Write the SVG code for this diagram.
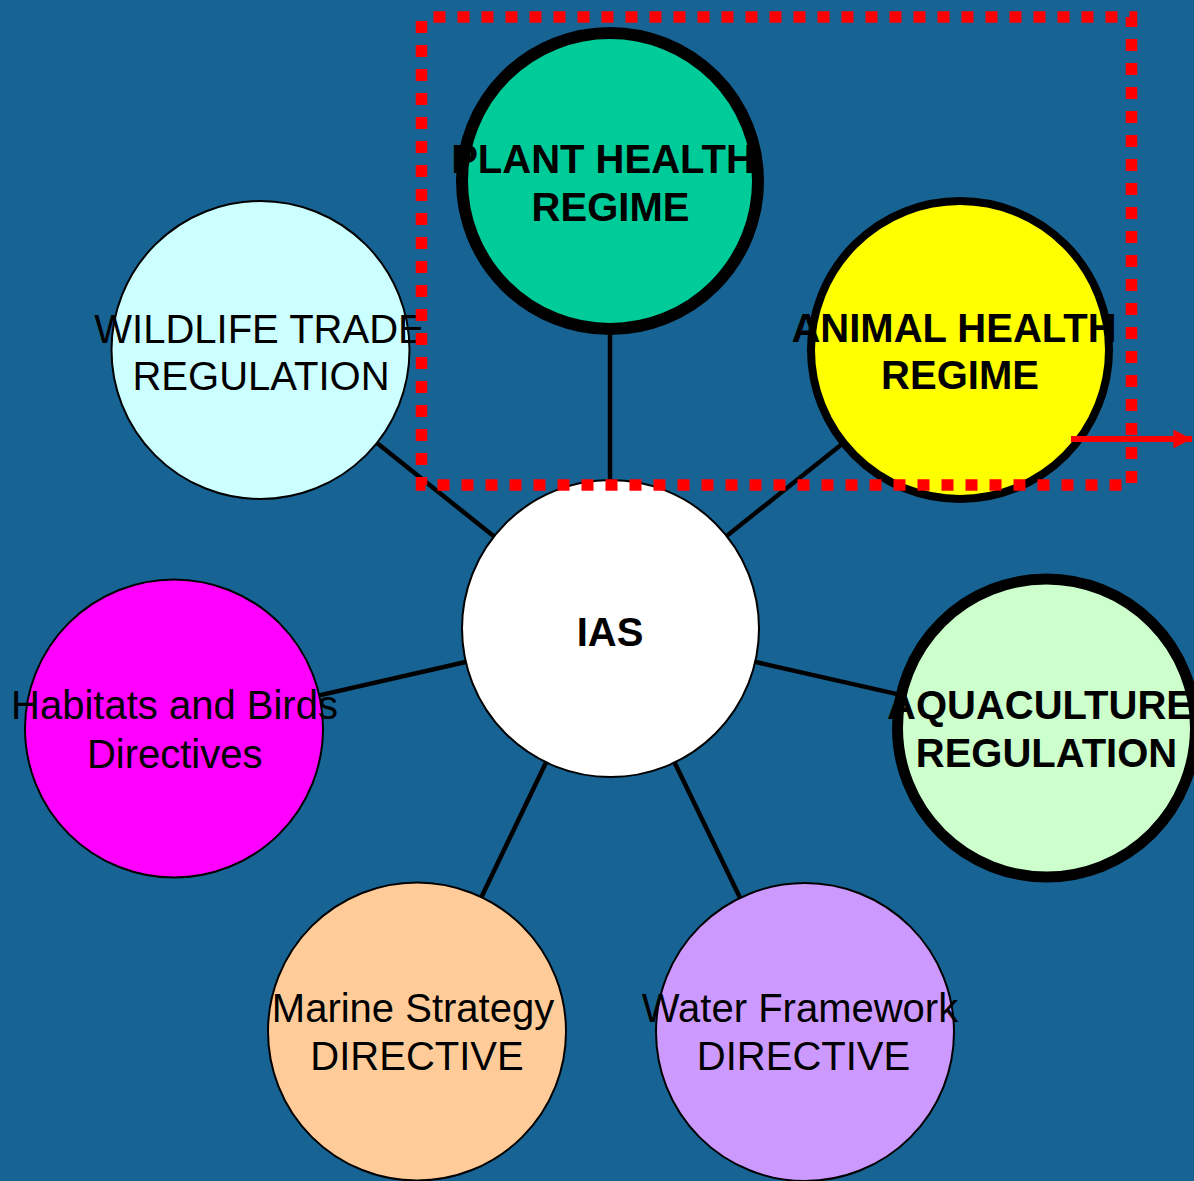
<svg xmlns="http://www.w3.org/2000/svg" width="1194" height="1181" viewBox="0 0 1194 1181">
  <style>
    .node { stroke: #000; stroke-width: 2; }
    .thick12 { stroke-width: 12; }
    .thick8 { stroke-width: 8; }
    .thick11 { stroke-width: 11; }
    .lbl { font-family: "Liberation Sans", Arial, sans-serif; font-size: 40px; fill: #000; text-anchor: middle; }
    .bold { font-weight: bold; }
    .conn { stroke: #000; stroke-width: 4.5; fill: none; }
  </style>
  <defs>
    <marker id="redHead" viewBox="0 0 10 10" refX="10" refY="5" markerWidth="3.3" markerHeight="3.1" markerUnits="strokeWidth" orient="auto">
      <path d="M0,0 L10,5 L0,10 z" fill="#FF0000"/>
    </marker>
  </defs>

  <rect x="0" y="0" width="1194" height="1181" fill="#176494"/>

  <!-- spokes from the hub to each regime -->
  <g id="connectors">
    <line class="conn" x1="610" y1="629" x2="610" y2="181"/>
    <line class="conn" x1="610" y1="629" x2="260.5" y2="350"/>
    <line class="conn" x1="610" y1="629" x2="960" y2="350"/>
    <line class="conn" x1="610" y1="629" x2="174" y2="728.5"/>
    <line class="conn" x1="610" y1="629" x2="1046.5" y2="728"/>
    <line class="conn" x1="610" y1="629" x2="417" y2="1031.5"/>
    <line class="conn" x1="610" y1="629" x2="805" y2="1032"/>
  </g>

  <g id="plant-health">
    <circle class="node thick12" cx="610" cy="181" r="148" fill="#00CC99"/>
    <text class="lbl bold" x="603" y="173">PLANT HEALTH</text>
    <text class="lbl bold" x="610.5" y="220.7">REGIME</text>
  </g>

  <g id="animal-health">
    <circle class="node thick8" cx="960" cy="350" r="149" fill="#FFFF00"/>
    <text class="lbl bold" x="954" y="341.7">ANIMAL HEALTH</text>
    <text class="lbl bold" x="960" y="389">REGIME</text>
  </g>

  <g id="wildlife-trade">
    <circle class="node" cx="260.5" cy="350" r="149" fill="#CCFFFF"/>
    <text class="lbl" x="259.5" y="342.7">WILDLIFE TRADE</text>
    <text class="lbl" x="261" y="390">REGULATION</text>
  </g>

  <g id="ias">
    <circle class="node" cx="610.5" cy="628.5" r="148.5" fill="#FFFFFF"/>
    <text class="lbl bold" x="610" y="645.7">IAS</text>
  </g>

  <g id="habitats-birds">
    <circle class="node" cx="174" cy="728.5" r="149" fill="#FF00FF"/>
    <text class="lbl" x="174.5" y="719">Habitats and Birds</text>
    <text class="lbl" x="174.7" y="767.7">Directives</text>
  </g>

  <g id="aquaculture">
    <circle class="node thick11" cx="1046.5" cy="728" r="149" fill="#CCFFCC"/>
    <text class="lbl bold" x="1040" y="719">AQUACULTURE</text>
    <text class="lbl bold" x="1046.5" y="766.7">REGULATION</text>
  </g>

  <g id="marine-strategy">
    <circle class="node" cx="417" cy="1031.5" r="149" fill="#FFCC99"/>
    <text class="lbl" x="413" y="1021.7">Marine Strategy</text>
    <text class="lbl" x="417" y="1070">DIRECTIVE</text>
  </g>

  <g id="water-framework">
    <circle class="node" cx="805" cy="1032" r="149" fill="#CC99FF"/>
    <text class="lbl" x="800" y="1021.7">Water Framework</text>
    <text class="lbl" x="803.5" y="1070">DIRECTIVE</text>
  </g>

  <!-- highlight frame around the health regimes -->
  <g id="highlight">
    <rect x="421.5" y="17" width="710" height="468" fill="none" stroke="#FF0000" stroke-width="11.5" stroke-dasharray="12 12" stroke-dashoffset="12"/>
    <line x1="1071" y1="439" x2="1192" y2="439" stroke="#FF0000" stroke-width="6" marker-end="url(#redHead)"/>
  </g>
</svg>
